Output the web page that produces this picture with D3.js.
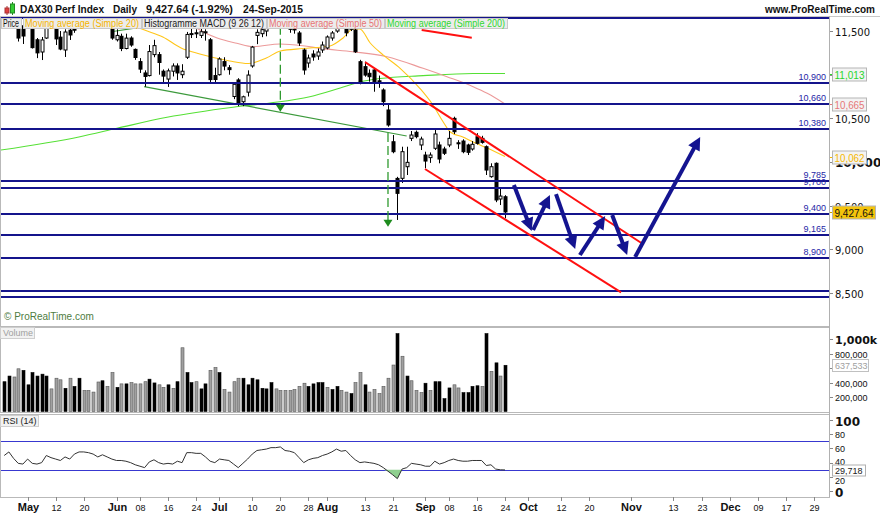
<!DOCTYPE html>
<html><head><meta charset="utf-8">
<script src="https://cdn.jsdelivr.net/npm/d3@7"></script>
<style>body{margin:0;background:#fff}svg{display:block}</style>
</head><body><svg id="c" width="880" height="516"></svg>
<script>
// ---------------- DATA ----------------
const holidays = ["2015-05-01","2015-05-25","2015-12-24","2015-12-25"];
const open  = [11700,11850,11810,11720,11560,11560,11540,11400,11260,11420,11700,11640,11430,11283,11510,11560,11600,11850,11840,11830,11800,11600,11740,11640,11400,11440,11300,11420,11290,11150,11020,10990,11230,11230,11040,10950,11040,11100,11000,11200,11460,11480,11450,11480,11400,10990,11000,11150,11080,10750,10940,10690,10800,11100,11450,11470,11500,11600,11700,11690,11700,11590,11540,11478,11283,11134,11237,11214,11283,11306,11420,11500,11640,11540,11520,11512,11149,11092,11016,11054,10930,10825,10596,10232,9812,9813,9946,10271,10340,10195,10080,10050,10157,10195,10149,10195,10500,10220,10240,10195,10149,10290,10271,10175,9832,9985,9576,9602];
const high  = [11860,12000,11840,11730,11600,11650,11570,11420,11432,11720,11720,11660,11500,11520,11560,11600,11880,11900,11870,11860,11810,11790,11760,11680,11520,11470,11470,11440,11300,11190,11050,11340,11400,11260,11060,11070,11130,11130,11120,11490,11560,11520,11530,11520,11420,11080,11200,11200,11110,10900,10960,10760,11050,11330,11520,11560,11570,11740,11750,11800,11720,11610,11600,11500,11300,11230,11280,11300,11380,11450,11500,11660,11670,11560,11640,11540,11170,11149,11060,11073,10990,10844,10653,10309,9830,10175,10175,10355,10360,10290,10118,10110,10378,10233,10175,10355,10519,10250,10260,10210,10240,10330,10300,10190,9985,9995,9699,9620];
const low   = [11680,11780,11640,11380,11352,11550,11300,11190,11168,11410,11600,11340,11280,11203,11398,11480,11590,11780,11760,11780,11600,11580,11620,11400,11380,11270,11290,11320,11170,11020,10862,10980,11200,11000,10900,10860,10980,10940,10960,11180,11420,11420,11420,11390,10900,10900,10990,11050,11000,10720,10640,10640,10750,11080,11350,11430,11440,11580,11640,11660,11580,11480,11470,11330,11000,11080,11160,11170,11250,11290,11390,11480,11560,11440,11500,11250,10890,10977,10920,10805,10850,10640,10404,10100,9336,9760,9851,10240,10271,10137,9928,9990,10137,9985,10080,10170,10320,10150,10100,10080,10130,10200,10210,9851,9820,9540,9507,9355];
const close = [11811,11811,11700,11420,11443,11600,11310,11250,11398,11700,11670,11410,11294,11489,11455,11510,11853,11848,11816,11815,11625,11771,11674,11420,11450,11300,11419,11340,11197,11064,10980,11265,11333,11140,10984,11044,11100,11020,11040,11461,11471,11472,11492,11492,10944,10945,11180,11099,11058,10890,10676,10747,10996,11316,11485,11516,11539,11717,11673,11734,11604,11520,11513,11363,11054,11191,11203,11260,11340,11432,11478,11636,11585,11480,11604,11263,10901,10996,10977,10920,10915,10691,10424,10118,9641,10118,9996,10309,10290,10263,10011,10080,10321,10034,10100,10271,10347,10214,10118,10111,10203,10214,10225,9908,9946,9565,9610,9427.64];
const volume = [411,489,476,589,567,368,537,489,515,489,312,459,437,320,459,346,459,290,290,268,407,424,346,537,333,381,381,398,381,381,411,446,394,368,333,368,320,411,879,537,398,411,312,381,567,606,537,303,268,411,459,459,368,459,437,320,312,398,312,290,290,290,303,346,390,346,381,398,398,333,303,346,290,268,247,398,537,368,268,303,247,346,459,641,1074,762,489,424,290,260,390,290,411,411,177,325,368,325,260,260,346,355,346,1074,554,671,489,637.533].map(v=>v*1000);
const volColor = "BBGGBBBBBBGGGBGBBGGGGBGGBGBGGGGBBGGBGBGBBGBBGGBGGGGBBBBBBBGGGGGGGBBBBGBBGGBGGBGGGGGGBGBGGGBGBBBBGGBBBBGBGBG".split("");
const rsi = [50,55,46,39,38,45,39,38,40,50,47,45,43,48,45,52,55,55,54,52,48,51,48,45,43,43,42,40,37,35,33,41,44,40,38,39,38,42,40,54,54,53,53,48,42,40,45,44,43,38,33,39,45,52,57,58,59,61,61,62,57,56,54,47,40,44,46,47,50,52,55,59,56,57,50,44,40,41,40,39,37,33,28,23,17.6,31,33,39,38,37,35,35,42,38,40,43,45,43,42,42,43,43,43,36,37,31,30,29.718];
// moving averages: [trading-day index, value]
const sma20  = [[28,11557],[29.7,11518],[33.9,11432],[37.8,11306],[41.8,11237],[48.2,11157],[52.1,11128],[56,11191],[59,11272],[63.8,11300],[69.6,11329],[72.4,11421],[74.5,11524],[76,11524],[78.2,11363],[81,11225],[84.6,11073],[88.8,10844],[91.6,10653],[93.8,10458],[95.3,10344],[98,10286],[100.2,10229],[103.2,10160],[107,10062]];
const sma50  = [[40,11575],[41.8,11512],[45.5,11420],[49.7,11360],[53.2,11321],[58.9,11352],[63.8,11332],[67.5,11302],[74.5,11263],[81.8,11206],[89.5,11073],[94.6,10977],[100.2,10863],[103.2,10787],[107,10665]];
const sma200 = [[-1,10135],[16.2,10290],[24.1,10386],[34.8,10512],[48.9,10627],[56.8,10676],[65.3,10748],[71.8,10848],[76,10916],[80.3,10956],[89.5,10989],[100.2,11014],[107,11013]];
// horizontal support / resistance lines
const hLines  = [11655,10900,10660,10380,9785,9700,9400,9165,8900,8528,8454];
const hLabels = ["","10,900","10,660","10,380","9,785","9,700","9,400","9,165","8,900","",""];
// annotations (index, price)
const redLines   = [[77.1,11145,136.3,9066],[89.9,9920,131.8,8507],[89.2,11512,99.9,11424]];
const greenLines = [[29.9,10863,86,10298],[23.2,11495,29.7,11548]];
const greenDashArrows = [[59,11560,10576],[82,10332,9259]];
const blueArrows = [[108.9,9737,112.7,9210],[113,9221,116.6,9622],[117.9,9633,122,9003],[123,8935,128.4,9381],[129.9,9393,133.1,8935],[134.8,8912,148.7,10287]];
// axes (labels hidden behind value boxes in the original are left blank)
const priceTicks = [11500,11000,10500,10000,9500,9000,8500];
const priceTickLabels = ["11,500","","10,500","10,000","9,500","9,000","8,500"];
const volTicks   = [200000,400000,600000,800000,1000000];
const volTickLabels = ["200,000","400,000","","800,000","1,000k"];
const rsiTicks   = [0,20,40,60,80,100];
const tickDates  = ["2015-05-04","2015-05-12","2015-05-20","2015-06-01","2015-06-08","2015-06-16","2015-06-24","2015-07-01","2015-07-10","2015-07-20","2015-07-28","2015-08-03","2015-08-13","2015-08-21","2015-09-01","2015-09-08","2015-09-16","2015-09-24","2015-10-01","2015-10-12","2015-10-20","2015-11-02","2015-11-13","2015-11-23","2015-12-01","2015-12-09","2015-12-17","2015-12-29"];
const tickLabels = ["May","12","20","Jun","08","16","24","Jul","10","20","28","Aug","13","21","Sep","08","16","24","Oct","12","20","Nov","13","23","Dec","09","17","29"];

// ---------------- CALENDAR ----------------
const cal = [];
for (let d = new Date(Date.UTC(2015,3,24)); d <= new Date(Date.UTC(2016,0,8)); d.setUTCDate(d.getUTCDate()+1)) {
  const wd = d.getUTCDay(), s = d.toISOString().slice(0,10);
  if (wd > 0 && wd < 6 && !holidays.includes(s)) cal.push(s);
}
const N = close.length;

// ---------------- SCALES ----------------
const PR = 829;
const mainP = {t:16, b:326}, volP = {t:327, b:412}, rsiP = {t:414, b:497};
const x = d3.scaleLinear().domain([0,107]).range([4.2,505]);
const y = d3.scaleLinear().domain([9000,11500]).range([249.3,31.05]);
const yV = d3.scaleLinear().domain([0,1000000]).range([411.5,339]);
const yR = d3.scaleLinear().domain([0,100]).range([491.2,419.8]);

const FD = '"DejaVu Sans",sans-serif';
const FL = '"Liberation Sans",Arial,sans-serif';
const FN = '"Liberation Sans Narrow","Liberation Sans",sans-serif';
const NAVY = "#14148c";

const svg = d3.select("#c");
svg.append("rect").attr("width",880).attr("height",516).attr("fill","#fff");

// clip paths
const defs = svg.append("defs");
[["cm",mainP],["cv",volP],["cr",rsiP]].forEach(([id,p])=>{
  defs.append("clipPath").attr("id",id).append("rect").attr("x",1).attr("y",p.t+1).attr("width",PR-1).attr("height",p.b-p.t-1);
});

// panel frames
[mainP,volP,rsiP].forEach(p=>{
  svg.append("rect").attr("x",0.5).attr("y",p.t+0.5).attr("width",PR).attr("height",p.b-p.t)
    .attr("fill","#fff").attr("stroke","#b9b9b9");
});

// ---------------- MAIN PANEL ----------------
const gm = svg.append("g").attr("clip-path","url(#cm)");
const maLine = d3.line().x(d=>x(d[0])).y(d=>y(d[1])).curve(d3.curveMonotoneX);
gm.append("path").datum(sma200).attr("d",maLine).attr("fill","none").attr("stroke","#55e035").attr("stroke-width",1.1);
gm.append("path").datum(sma50).attr("d",maLine).attr("fill","none").attr("stroke","#ec9a9a").attr("stroke-width",1.1);
gm.append("path").datum(sma20).attr("d",maLine).attr("fill","none").attr("stroke","#ffc61a").attr("stroke-width",1.1);

// green solid lines
greenLines.forEach(l=>{
  gm.append("line").attr("x1",x(l[0])).attr("y1",y(l[1])).attr("x2",x(l[2])).attr("y2",y(l[3]))
    .attr("stroke","#3c9a3c").attr("stroke-width",1.2);
});

// candles
const idx = d3.range(N);
const cx = i => Math.round(x(i)) + 0.5;
gm.selectAll("line.wick").data(idx).join("line").attr("class","wick")
  .attr("x1",cx).attr("x2",cx).attr("y1",i=>y(high[i])).attr("y2",i=>y(low[i]))
  .attr("stroke","#000").attr("stroke-width",1);
gm.selectAll("rect.body").data(idx).join("rect").attr("class","body")
  .attr("x",i=>cx(i)-1.5).attr("width",3)
  .attr("y",i=>Math.min(y(open[i]),y(close[i])))
  .attr("height",i=>Math.max(1,Math.abs(y(open[i])-y(close[i]))))
  .attr("fill",i=>close[i]>=open[i]?"#fff":"#000").attr("stroke","#000").attr("stroke-width",1);

// horizontal lines
hLines.forEach((v,k)=>{
  const yy = Math.round(y(v));
  gm.append("line").attr("x1",0).attr("x2",PR).attr("y1",yy).attr("y2",yy).attr("stroke",NAVY).attr("stroke-width",2);
  if (hLabels[k]) gm.append("text").attr("x",826).attr("y",yy-3).attr("text-anchor","end")
    .attr("font-family",FL).attr("font-size",9).attr("fill","#2626a6").text(hLabels[k]);
});

// green dashed arrows
greenDashArrows.forEach(a=>{
  const xx = x(a[0]), y1 = y(a[1]), y2 = y(a[2]);
  gm.append("line").attr("x1",xx).attr("x2",xx).attr("y1",y1).attr("y2",y2-6)
    .attr("stroke","#2f9a2f").attr("stroke-width",1.3).attr("stroke-dasharray","9,4");
  gm.append("path").attr("d",`M${xx-4.5},${y2-7}L${xx+4.5},${y2-7}L${xx},${y2}Z`).attr("fill","#1e8c1e");
});

// red channel lines
redLines.forEach(l=>{
  gm.append("line").attr("x1",x(l[0])).attr("y1",y(l[1])).attr("x2",x(l[2])).attr("y2",y(l[3]))
    .attr("stroke","#ff1010").attr("stroke-width",2);
});

// blue arrows
function arrow(g,x1,y1,x2,y2,col,lw,hl,hw){
  const a = Math.atan2(y2-y1,x2-x1), bx = x2-hl*Math.cos(a), by = y2-hl*Math.sin(a);
  g.append("line").attr("x1",x1).attr("y1",y1).attr("x2",bx+2*Math.cos(a)).attr("y2",by+2*Math.sin(a))
    .attr("stroke",col).attr("stroke-width",lw);
  g.append("path").attr("d",`M${x2},${y2}L${bx+hw*Math.sin(a)},${by-hw*Math.cos(a)}L${bx-hw*Math.sin(a)},${by+hw*Math.cos(a)}Z`).attr("fill",col);
}
blueArrows.forEach(a=>arrow(gm,x(a[0]),y(a[1]),x(a[2]),y(a[3]),"#141490",4,13,6.5));

// copyright
svg.append("text").attr("x",4).attr("y",320).attr("font-family",FL).attr("font-size",10).attr("fill","#4f7d42").text("© ProRealTime.com");

// ---------------- LEGEND / HEADER ----------------
svg.append("line").attr("x1",0).attr("x2",880).attr("y1",16.5).attr("y2",16.5).attr("stroke","#c8c8c8");
const leg = [["Price","#111",1,22],["Moving average (Simple 20)","#f5b400",23,142],["Histogramme MACD (9 26 12)","#222",142,267],["Moving average (Simple 50)","#e87474",267,385],["Moving average (Simple 200)","#2fd82f",385,508]];
leg.forEach(l=>{
  svg.append("rect").attr("x",l[2]+0.5).attr("y",18.5).attr("width",l[3]-l[2]-1).attr("height",10).attr("fill","#ececec").attr("stroke","#c9c9c9");
  svg.append("text").attr("x",l[2]+2).attr("y",27).attr("font-family",FL).attr("font-size",10).attr("fill",l[1])
    .attr("textLength",l[3]-l[2]-5).attr("lengthAdjust","spacingAndGlyphs").text(l[0]);
});
// header icon
svg.append("line").attr("x1",7).attr("x2",7).attr("y1",6).attr("y2",15).attr("stroke","#a33");
svg.append("rect").attr("x",5).attr("y",8).attr("width",4).attr("height",5).attr("fill","#e04040").attr("stroke","#a33");
svg.append("line").attr("x1",12.5).attr("x2",12.5).attr("y1",2).attr("y2",15).attr("stroke","#282");
svg.append("rect").attr("x",10.5).attr("y",4).attr("width",4).attr("height",9).attr("fill","#3c3").attr("stroke","#282");
const hdr = [["DAX30 Perf Index",20,84],["Daily",113,24],["9,427.64 (-1.92%)",146,87],["24-Sep-2015",243,60]];
hdr.forEach(h=>svg.append("text").attr("x",h[1]).attr("y",13).attr("font-family",FL).attr("font-weight","bold").attr("font-size",11)
  .attr("textLength",h[2]).attr("lengthAdjust","spacingAndGlyphs").attr("fill","#111").text(h[0]));
svg.append("text").attr("x",875).attr("y",13).attr("text-anchor","end").attr("font-family",FL).attr("font-weight","bold").attr("font-size",10)
  .attr("fill","#111").text("www.ProRealTime.com");

// ---------------- RIGHT AXIS (price) ----------------
const ra = svg.append("g");
priceTicks.forEach((v,k)=>{
  const yy = Math.round(y(v))+0.5;
  ra.append("line").attr("x1",PR).attr("x2",PR+4).attr("y1",yy).attr("y2",yy).attr("stroke","#888");
  const bold = v===10000;
  if (priceTickLabels[k]) ra.append("text").attr("x",835).attr("y",yy+4).attr("font-family",FD).attr("font-size",bold?12:10)
    .attr("font-weight",bold?"bold":"normal").attr("fill","#111").text(priceTickLabels[k]);
});
function valBox(v,txt,col,fill,w){
  const yy = Math.round(y(v))+0.5;
  ra.append("line").attr("x1",PR).attr("x2",PR+4).attr("y1",yy).attr("y2",yy).attr("stroke",col==="#111"?"#c9a000":col);
  ra.append("rect").attr("x",832.5).attr("y",yy-6.5).attr("width",w).attr("height",13).attr("fill",fill).attr("stroke","#b5b5b5");
  ra.append("text").attr("x",834.5).attr("y",yy+4).attr("font-family",FL).attr("font-size",10.5).attr("fill",col)
    .attr("textLength",w-4).attr("lengthAdjust","spacingAndGlyphs").text(txt);
}
valBox(sma200[sma200.length-1][1],"11,013","#29d629","#f3f3f3",34);
valBox(sma50[sma50.length-1][1],"10,665","#e67878","#f3f3f3",34);
valBox(sma20[sma20.length-1][1],"10,062","#f5b800","#f3f3f3",34);
valBox(close[N-1],d3.format(",.2f")(close[N-1]),"#111","#f4c40c",43);

// ---------------- VOLUME ----------------
const gv = svg.append("g").attr("clip-path","url(#cv)");
gv.selectAll("rect").data(idx).join("rect")
  .attr("x",i=>cx(i)-1.5).attr("width",3).attr("y",i=>yV(volume[i])).attr("height",i=>yV(0)-yV(volume[i]))
  .attr("fill",i=>volColor[i]==="G"?"#a0a0a0":"#000").attr("stroke",i=>volColor[i]==="G"?"#555":"#000").attr("stroke-width",0.6);
svg.append("rect").attr("x",0.5).attr("y",327.5).attr("width",34).attr("height",11).attr("fill","#f2f2f2").attr("stroke","#cfcfcf");
svg.append("text").attr("x",3).attr("y",336).attr("font-family",FL).attr("font-size",9).attr("fill","#a0a0a0").text("Volume");
volTicks.forEach((v,k)=>{
  const yy = Math.round(yV(v))+0.5, bold = v===1000000;
  svg.append("line").attr("x1",PR).attr("x2",PR+4).attr("y1",yy).attr("y2",yy).attr("stroke","#888");
  if (volTickLabels[k]) svg.append("text").attr("x",835).attr("y",yy+(bold?4:3)).attr("font-family",bold?FD:FL).attr("font-size",bold?11:9)
    .attr("font-weight",bold?"bold":"normal").attr("fill","#111").text(volTickLabels[k]);
});
{
  const yy = Math.round(yV(volume[N-1]))+0.5;
  svg.append("rect").attr("x",832.5).attr("y",yy-6).attr("width",36).attr("height",12).attr("fill","#fff").attr("stroke","#c0c0c0");
  svg.append("text").attr("x",835).attr("y",yy+3).attr("font-family",FL).attr("font-size",9).attr("fill","#a0a0a0").text(d3.format(",")(Math.round(volume[N-1])));
}

// ---------------- RSI ----------------
const gr = svg.append("g").attr("clip-path","url(#cr)");
[70,30].forEach(v=>gr.append("line").attr("x1",0).attr("x2",PR).attr("y1",Math.round(yR(v))+0.5).attr("y2",Math.round(yR(v))+0.5).attr("stroke","#3838d0").attr("stroke-width",1));
const rArea = d3.area().x(i=>x(i)).y0(yR(30)).y1(i=>yR(Math.min(rsi[i],30)));
gr.append("path").datum(idx).attr("d",rArea).attr("fill","#8fd08f").attr("stroke","none");
gr.append("path").datum(idx).attr("d",d3.line().x(i=>x(i)).y(i=>yR(rsi[i]))).attr("fill","none").attr("stroke","#333").attr("stroke-width",1);
svg.append("rect").attr("x",0.5).attr("y",415.5).attr("width",38).attr("height",11).attr("fill","#f2f2f2").attr("stroke","#cfcfcf");
svg.append("text").attr("x",3).attr("y",424).attr("font-family",FL).attr("font-size",9).attr("fill","#222").text("RSI (14)");
rsiTicks.forEach(v=>{
  const yy = Math.round(yR(v))+0.5, bold = (v===0||v===100);
  const dy = bold ? 5 : (v===40 ? 1 : (v===20 ? 6 : 3));
  svg.append("line").attr("x1",PR).attr("x2",PR+4).attr("y1",yy).attr("y2",yy).attr("stroke","#888");
  svg.append("text").attr("x",835).attr("y",yy+dy).attr("font-family",bold?FD:FL).attr("font-size",bold?12:9)
    .attr("font-weight",bold?"bold":"normal").attr("fill","#111").text(v);
});
{
  const yy = Math.round(yR(rsi[N-1]))+0.5;
  svg.append("rect").attr("x",832.5).attr("y",yy-5.5).attr("width",33).attr("height",11).attr("fill","#fff").attr("stroke","#b0b0b0");
  svg.append("text").attr("x",835).attr("y",yy+3.5).attr("font-family",FL).attr("font-size",9).attr("fill","#222").text(d3.format(",.3f")(rsi[N-1]).replace(".",","));
}

// ---------------- X AXIS ----------------
svg.append("line").attr("x1",PR+0.5).attr("x2",PR+0.5).attr("y1",16).attr("y2",497).attr("stroke","#b0b0b0");
tickDates.forEach((d,k)=>{
  const xx = Math.round(x(cal.indexOf(d)))+0.5, month = /[A-Za-z]/.test(tickLabels[k]);
  svg.append("line").attr("x1",xx).attr("x2",xx).attr("y1",497).attr("y2",501).attr("stroke","#888");
  svg.append("text").attr("x",xx).attr("y",511).attr("text-anchor","middle").attr("font-family",FN)
    .attr("font-size",month?11:9).attr("font-weight",month?"bold":"normal").attr("fill","#111").text(tickLabels[k]);
});
</script></body></html>
